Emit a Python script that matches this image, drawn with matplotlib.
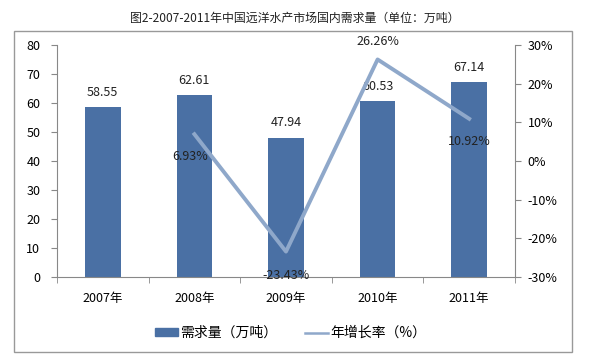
import matplotlib
matplotlib.use('Agg')
import matplotlib.pyplot as plt
from matplotlib.patches import Rectangle
from matplotlib.lines import Line2D
from matplotlib.ticker import FuncFormatter

plt.rcParams['font.family'] = ['Noto Sans CJK SC', 'DejaVu Sans']

# 数据
years = ['2007年', '2008年', '2009年', '2010年', '2011年']
demand = [58.55, 62.61, 47.94, 60.53, 67.14]
growth_years = ['2008年', '2009年', '2010年', '2011年']
growth = [6.93, -23.43, 26.26, 10.92]

bar_color = '#4A70A4'
line_color = '#8FA8CA'
axis_color = '#888888'

fig = plt.figure(figsize=(5.9, 3.6), dpi=100)
fig.patches.append(Rectangle((14 / 590, 1 - 352 / 360), 558 / 590, 321 / 360,
                             transform=fig.transFigure, fill=False,
                             edgecolor='#999999', linewidth=1))
fig.text(0.5, 1 - 18 / 360, '图2-2007-2011年中国远洋水产市场国内需求量（单位：万吨）',
         ha='center', va='center', fontsize=8.6, color='#222222')

ax = fig.add_axes([57 / 590, 1 - 277 / 360, 458 / 590, 232 / 360])
x = list(range(len(years)))
ax.bar(x, demand, width=0.39, color=bar_color, zorder=2)
for xi, v in zip(x, demand):
    ax.text(xi, v + 3, f'{v:.2f}', ha='center', va='bottom', fontsize=9, color='#222222')

ax.set_xlim(-0.5, len(years) - 0.5)
ax.set_ylim(0, 80)
ax.set_yticks(range(0, 81, 10))
ax.set_xticks(x)
ax.set_xticklabels(years, fontsize=9)
ax.set_xticks([i - 0.5 for i in range(len(years) + 1)], minor=True)
ax.tick_params(axis='x', which='major', length=0, pad=11)
ax.tick_params(axis='x', which='minor', length=4, color=axis_color)
ax.tick_params(axis='y', labelsize=9, length=4, color=axis_color, pad=8)
for s in ['top', 'right']:
    ax.spines[s].set_visible(False)
for s in ['left', 'bottom']:
    ax.spines[s].set_color(axis_color)

ax2 = ax.twinx()
gx = [years.index(y) for y in growth_years]
ax2.plot(gx, growth, color=line_color, linewidth=2.8, zorder=3)
ax2.set_ylim(-30, 30)
ax2.set_yticks(range(-30, 31, 10))
ax2.yaxis.set_major_formatter(FuncFormatter(lambda v, p: f'{v:.0f}%'))
ax2.tick_params(axis='y', labelsize=9, length=4, color=axis_color, pad=5)
for s in ['top', 'left', 'bottom']:
    ax2.spines[s].set_visible(False)
ax2.spines['right'].set_color(axis_color)
offsets = [(-0.05, -4.2), (0, -4.5), (0, 3.0), (0, -4.2)]
for xi, v, (dx, dy) in zip(gx, growth, offsets):
    ax2.text(xi + dx, v + dy, f'{v:.2f}%', ha='center',
             va='bottom' if dy > 0 else 'top', fontsize=9, color='#222222', zorder=4)

handles = [Rectangle((0, 0), 1, 1, color=bar_color),
           Line2D([0], [0], color=line_color, linewidth=1.8)]
fig.legend(handles, ['需求量（万吨）', '年增长率（%）'], loc='center',
           bbox_to_anchor=(0.493, 1 - 333 / 360), ncol=2, frameon=False,
           fontsize=10, handlelength=1.6, handleheight=0.5,
           columnspacing=2.0, handletextpad=0.2)

fig.savefig('out.png', dpi=100)
